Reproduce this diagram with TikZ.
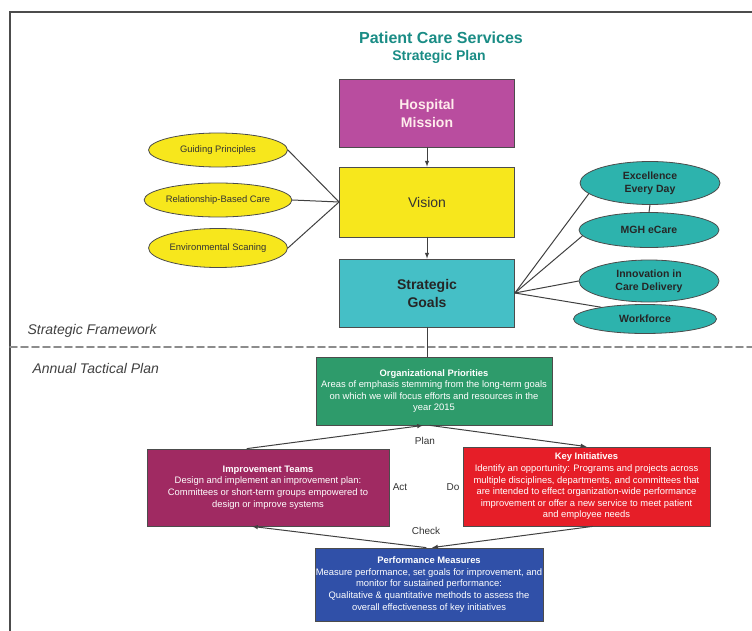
\documentclass[tikz,border=0pt]{standalone}
\usepackage{fontspec}
\setmainfont{Liberation Sans}
\usetikzlibrary{shapes.geometric}

\definecolor{titleteal}{HTML}{1A8C85}
\definecolor{missionpink}{HTML}{B94D9F}
\definecolor{visionyellow}{HTML}{F7E71C}
\definecolor{goalsteal}{HTML}{45BFC6}
\definecolor{ovalteal}{HTML}{2DB3AD}
\definecolor{priogreen}{HTML}{2E9B6B}
\definecolor{teammaroon}{HTML}{A02A62}
\definecolor{keyred}{HTML}{E61E28}
\definecolor{measblue}{HTML}{3050A8}
\definecolor{linegray}{HTML}{404040}

\tikzset{
  planbox/.style={draw=black!70, line width=0.8pt, inner sep=0pt, align=center},
  cyclebox/.style={planbox, text=white, font=\fontsize{9.4}{11.6}\selectfont},
  yellowoval/.style={ellipse, draw=black!70, line width=0.8pt, fill=visionyellow, inner sep=0pt,
    minimum width=139pt, font=\fontsize{9.4}{11}\selectfont, text=black!80},
  tealoval/.style={ellipse, draw=black!70, line width=0.8pt, fill=ovalteal, inner sep=0pt,
    minimum width=140pt, align=center, font=\fontsize{10.5}{13}\selectfont\bfseries, text=black!85},
  link/.style={draw=linegray, line width=1pt},
  cyclelabel/.style={font=\fontsize{10}{12}\selectfont, text=black!80},
}

\begin{document}
\begin{tikzpicture}[x=1pt, y=-1pt, line cap=round]
		\useasboundingbox (0,0) rectangle (752,631);
		
		% Frame
		\draw[line width=1.3pt, black!70] (752,12) -- (10,12) -- (10,631);
		
		% Title
		\node[text=titleteal, font=\fontsize{16}{18}\selectfont\bfseries] (title) at (441,38) {Patient Care Services};
		\node[text=titleteal, font=\fontsize{14}{16}\selectfont\bfseries] (subtitle) at (439,57) {Strategic Plan};
		
		% Strategic framework
		\node[planbox, fill=missionpink, minimum width=175pt, minimum height=68pt,
		  text=pink!30, font=\fontsize{14}{18}\selectfont\bfseries] (mission) at (427,113) {Hospital\\Mission};
		\node[planbox, fill=visionyellow, minimum width=175pt, minimum height=70pt,
		  text=black!80, font=\fontsize{14}{18}\selectfont] (vision) at (427,202) {Vision};
		\node[planbox, fill=goalsteal, minimum width=175pt, minimum height=68pt,
		  text=black!85, font=\fontsize{14}{18}\selectfont\bfseries] (goals) at (427,293) {Strategic\\Goals};
		
		\draw[link, -latex] (mission.south) -- (vision.north);
		\draw[link, -latex] (vision.south) -- (goals.north);
		
		% Left ovals
		\node[yellowoval, minimum height=34pt] (guiding) at (218,150) {Guiding Principles};
		\node[yellowoval, minimum height=34pt] (relcare) at (218,200) {Relationship-Based Care};
		\node[yellowoval, minimum height=39pt] (envscan) at (218,248) {Environmental Scaning};
		
		\draw[link] (guiding.east) -- (vision.west);
		\draw[link] (relcare.east) -- (vision.west);
		\draw[link] (envscan.east) -- (vision.west);
		
		% Right ovals
		\node[tealoval, minimum height=43pt] (excel) at (650,183) {Excellence\\Every Day};
		\node[tealoval, minimum height=35pt] (ecare) at (649,230) {MGH eCare};
		\node[tealoval, minimum height=42pt] (innov) at (649,281) {Innovation in\\Care Delivery};
		\node[tealoval, minimum width=143pt, minimum height=29pt] (workforce) at (645,319) {Workforce};
		
		\draw[link] (excel.south) -- (ecare.north);
		\draw[link] (goals.east) -- (excel.190);
		\draw[link] (goals.east) -- (ecare.185);
		\draw[link] (goals.east) -- (innov.west);
		\draw[link] (goals.east) -- (workforce.165);
		
		% Divider
		\node[anchor=west, font=\fontsize{14}{16}\selectfont\itshape, text=black!75] (framework) at (24,331) {Strategic Framework};
		\draw[black!45, line width=1.6pt, dash pattern=on 7pt off 4pt] (10,347) -- (752,347);
		\node[anchor=west, font=\fontsize{14}{16}\selectfont\itshape, text=black!75] (tactical) at (29,368) {Annual Tactical Plan};
		
		% Annual tactical plan
		\node[cyclebox, fill=priogreen, minimum width=236pt, minimum height=68pt] (orgprio) at (434,391)
		  {\textbf{Organizational Priorities}\\Areas of emphasis stemming from the long-term goals\\on which we will focus efforts and resources in the\\year 2015};
		\node[cyclebox, fill=teammaroon, minimum width=242pt, minimum height=77pt] (improve) at (268,487.5)
		  {\textbf{Improvement Teams}\\Design and implement an improvement plan:\\Committees or short-term groups empowered to\\design or improve systems};
		\node[cyclebox, fill=keyred, minimum width=247pt, minimum height=79pt] (keyinit) at (586.5,486.5)
		  {\textbf{Key Initiatives}\\Identify an opportunity: Programs and projects across\\multiple disciplines, departments, and committees that\\are intended to effect organization-wide performance\\improvement or offer a new service to meet patient\\and employee needs};
		\node[cyclebox, fill=measblue, minimum width=228pt, minimum height=73pt] (perfmeas) at (429,584.5)
		  {\textbf{Performance Measures}\\Measure performance, set goals for improvement, and\\monitor for sustained performance:\\Qualitative \& quantitative methods to assess the\\overall effectiveness of key initiatives};
		
		\draw[link] (goals.south) -- (goals.south |- orgprio.north);
		
		% Cycle
		\draw[link, -latex] ([xshift=-21pt]improve.north) -- ([xshift=-11pt]orgprio.south);
		\draw[link, -latex] ([xshift=-4pt]orgprio.south) -- (keyinit.north);
		\draw[link, -latex] ([xshift=6pt]keyinit.south) -- ([xshift=3pt]perfmeas.north);
		\draw[link, -latex] ([xshift=-3pt]perfmeas.north) -- ([xshift=-16pt]improve.south);
		
		% Labels
		\node[cyclelabel] (plan) at (425,441) {Plan};
		\node[cyclelabel] (act) at (400,487) {Act};
		\node[cyclelabel] (do) at (453,487) {Do};
		\node[cyclelabel] (check) at (426,531) {Check};
	\end{tikzpicture}
\end{document}
